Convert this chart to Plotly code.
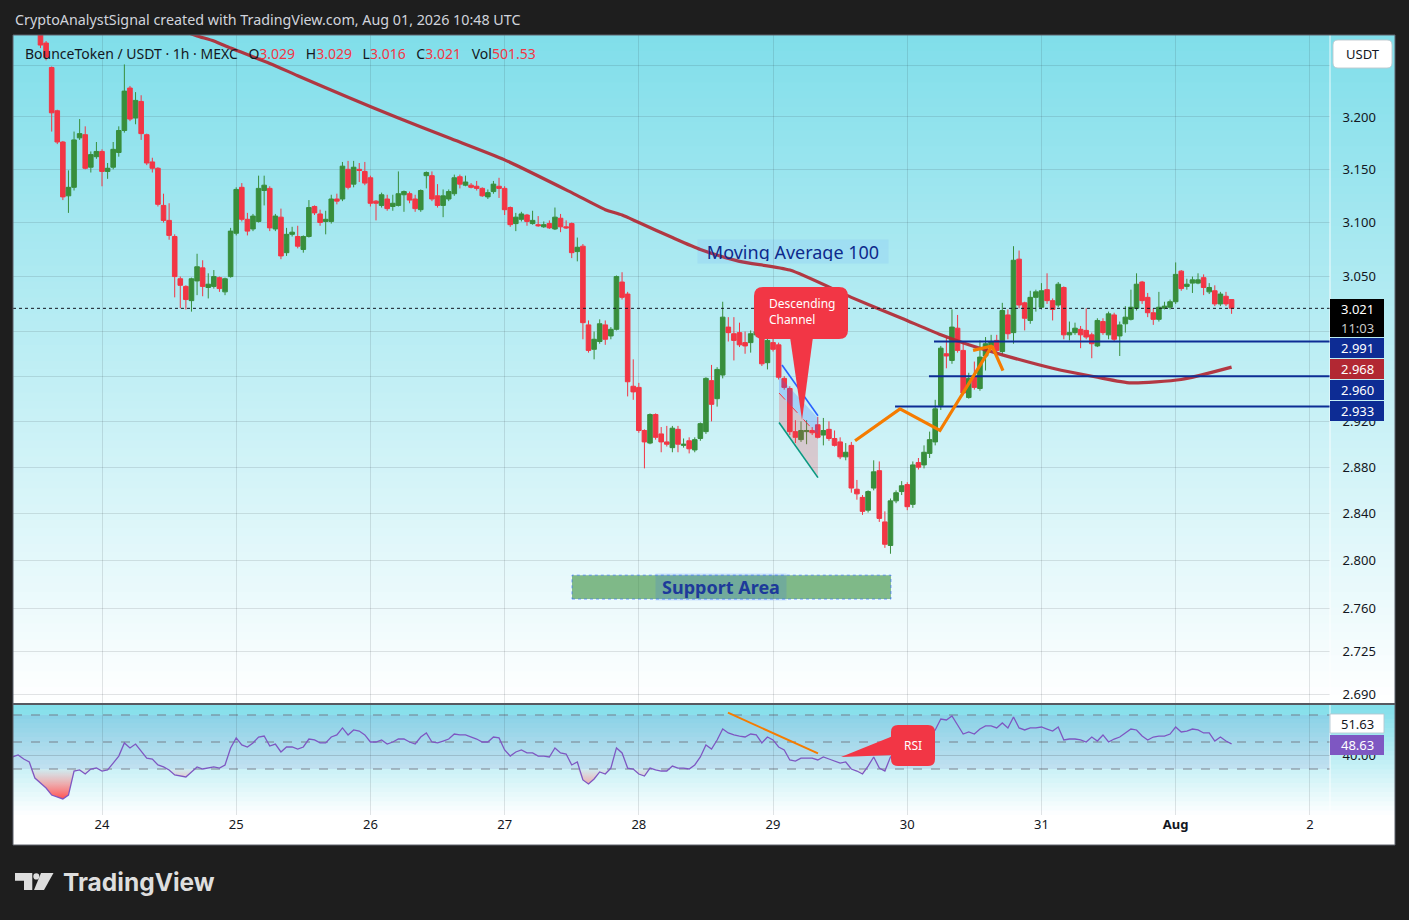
import math
import pandas as pd
import plotly.graph_objects as go

# ------------------------------------------------------------------ data
header_symbol = "BounceToken / USDT · 1h · MEXC"
last_volume = "501.53"
candle_start = "2026-07-23 13:00"

opens = [
    3.285, 3.272, 3.248, 3.206, 3.176, 3.125, 3.133, 3.180, 3.183, 3.152,
    3.162, 3.167, 3.148, 3.152, 3.166, 3.187, 3.228, 3.199, 3.215, 3.183,
    3.157, 3.151, 3.116, 3.102, 3.087, 3.048, 3.041, 3.028, 3.046, 3.058,
    3.040, 3.041, 3.049, 3.036, 3.050, 3.090, 3.133, 3.103, 3.094, 3.101,
    3.130, 3.132, 3.094, 3.105, 3.072, 3.089, 3.087, 3.075, 3.087, 3.115,
    3.108, 3.101, 3.101, 3.122, 3.122, 3.150, 3.136, 3.150, 3.148, 3.142,
    3.120, 3.116, 3.122, 3.115, 3.116, 3.126, 3.127, 3.122, 3.112, 3.144,
    3.144, 3.125, 3.116, 3.122, 3.127, 3.143, 3.135, 3.135, 3.134, 3.132,
    3.124, 3.129, 3.134, 3.132, 3.114, 3.099, 3.103, 3.107, 3.099, 3.098,
    3.096, 3.099, 3.094, 3.104, 3.096, 3.099, 3.073, 3.078, 3.006, 2.984,
    2.991, 3.006, 2.996, 3.002, 3.045, 3.034, 2.951, 2.950, 2.912, 2.901,
    2.926, 2.909, 2.902, 2.897, 2.913, 2.899, 2.903, 2.895, 2.905, 2.911,
    2.956, 2.940, 2.961, 3.004, 2.998, 2.999, 2.990, 2.990, 2.997, 2.996,
    2.972, 2.990, 2.988, 2.958, 2.949, 2.911, 2.904, 2.911, 2.912, 2.917,
    2.908, 2.913, 2.905, 2.902, 2.889, 2.899, 2.861, 2.854, 2.843, 2.862,
    2.877, 2.833, 2.813, 2.851, 2.859, 2.865, 2.848, 2.884, 2.882, 2.892,
    2.902, 2.934, 2.980, 2.974, 3.003, 2.983, 2.941, 2.959, 2.949, 2.978,
    2.987, 2.992, 2.982, 3.015, 2.999, 3.066, 3.026, 3.010, 3.031, 3.022,
    3.038, 3.028, 3.024, 3.040, 2.997, 2.999, 3.002, 3.001, 2.997, 2.987,
    3.009, 2.997, 3.015, 2.996, 3.007, 3.011, 3.021, 3.045, 3.031, 3.017,
    3.011, 3.021, 3.022, 3.027, 3.055, 3.041, 3.044, 3.044, 3.049, 3.036,
    3.037, 3.025, 3.032, 3.029,
]
highs = [
    3.290, 3.274, 3.249, 3.207, 3.177, 3.149, 3.186, 3.198, 3.191, 3.167,
    3.176, 3.169, 3.156, 3.176, 3.191, 3.251, 3.230, 3.224, 3.221, 3.184,
    3.161, 3.152, 3.127, 3.118, 3.089, 3.050, 3.042, 3.049, 3.071, 3.065,
    3.053, 3.056, 3.050, 3.049, 3.095, 3.133, 3.137, 3.109, 3.108, 3.144,
    3.144, 3.134, 3.108, 3.113, 3.095, 3.096, 3.097, 3.088, 3.121, 3.116,
    3.112, 3.111, 3.126, 3.127, 3.157, 3.158, 3.158, 3.156, 3.157, 3.144,
    3.121, 3.128, 3.126, 3.126, 3.148, 3.130, 3.129, 3.126, 3.131, 3.148,
    3.148, 3.136, 3.131, 3.131, 3.145, 3.145, 3.144, 3.137, 3.139, 3.133,
    3.131, 3.139, 3.142, 3.134, 3.115, 3.109, 3.110, 3.108, 3.111, 3.106,
    3.101, 3.102, 3.114, 3.108, 3.102, 3.100, 3.086, 3.080, 3.010, 3.000,
    3.011, 3.010, 3.004, 3.051, 3.054, 3.036, 2.975, 2.954, 2.913, 2.927,
    2.927, 2.915, 2.916, 2.916, 2.916, 2.905, 2.906, 2.906, 2.919, 2.959,
    2.970, 2.968, 3.027, 3.013, 3.013, 3.008, 3.000, 3.001, 3.004, 2.999,
    2.994, 2.994, 2.990, 2.960, 2.951, 2.921, 2.920, 2.921, 2.915, 2.924,
    2.923, 2.920, 2.912, 2.906, 2.901, 2.902, 2.869, 2.856, 2.860, 2.886,
    2.885, 2.842, 2.853, 2.860, 2.868, 2.867, 2.885, 2.888, 2.899, 2.911,
    2.939, 2.987, 2.995, 3.020, 3.015, 2.991, 2.963, 2.973, 2.992, 2.995,
    2.997, 2.997, 3.026, 3.020, 3.078, 3.074, 3.027, 3.037, 3.038, 3.044,
    3.053, 3.030, 3.045, 3.041, 3.009, 3.008, 3.005, 3.021, 2.999, 3.012,
    3.012, 3.018, 3.017, 3.009, 3.023, 3.038, 3.053, 3.046, 3.035, 3.021,
    3.036, 3.027, 3.029, 3.063, 3.056, 3.048, 3.050, 3.053, 3.052, 3.044,
    3.042, 3.036, 3.036, 3.029,
]
lows = [
    3.267, 3.255, 3.186, 3.174, 3.121, 3.109, 3.130, 3.178, 3.150, 3.147,
    3.160, 3.134, 3.141, 3.150, 3.162, 3.185, 3.196, 3.193, 3.178, 3.154,
    3.147, 3.115, 3.100, 3.084, 3.031, 3.021, 3.020, 3.018, 3.033, 3.032,
    3.030, 3.039, 3.036, 3.033, 3.049, 3.088, 3.101, 3.088, 3.092, 3.100,
    3.116, 3.092, 3.092, 3.066, 3.069, 3.087, 3.076, 3.072, 3.086, 3.107,
    3.097, 3.089, 3.099, 3.117, 3.120, 3.131, 3.133, 3.138, 3.135, 3.115,
    3.102, 3.114, 3.111, 3.111, 3.115, 3.110, 3.118, 3.110, 3.110, 3.132,
    3.120, 3.114, 3.105, 3.120, 3.125, 3.132, 3.134, 3.132, 3.130, 3.124,
    3.122, 3.127, 3.123, 3.107, 3.096, 3.092, 3.101, 3.097, 3.098, 3.096,
    3.095, 3.094, 3.093, 3.091, 3.094, 3.067, 3.064, 2.993, 2.981, 2.975,
    2.989, 2.988, 2.993, 3.001, 3.029, 2.942, 2.939, 2.910, 2.879, 2.900,
    2.904, 2.893, 2.898, 2.893, 2.893, 2.897, 2.892, 2.893, 2.903, 2.909,
    2.920, 2.933, 2.958, 2.991, 2.974, 2.986, 2.980, 2.981, 2.995, 2.969,
    2.966, 2.982, 2.957, 2.948, 2.908, 2.901, 2.902, 2.900, 2.908, 2.905,
    2.899, 2.903, 2.898, 2.887, 2.886, 2.858, 2.852, 2.839, 2.841, 2.860,
    2.833, 2.811, 2.806, 2.849, 2.856, 2.843, 2.845, 2.878, 2.879, 2.888,
    2.899, 2.930, 2.967, 2.971, 2.981, 2.943, 2.940, 2.948, 2.947, 2.965,
    2.985, 2.981, 2.979, 2.993, 2.989, 3.021, 3.001, 3.007, 3.018, 3.020,
    3.025, 3.010, 3.022, 2.993, 2.992, 2.997, 2.985, 2.993, 2.976, 2.986,
    2.997, 2.993, 2.991, 2.978, 2.999, 3.010, 3.019, 3.025, 3.013, 3.006,
    3.009, 3.020, 3.020, 3.025, 3.037, 3.038, 3.035, 3.043, 3.033, 3.034,
    3.023, 3.023, 3.023, 3.016,
]
closes = [
    3.270, 3.258, 3.204, 3.176, 3.124, 3.133, 3.178, 3.184, 3.151, 3.164,
    3.167, 3.148, 3.151, 3.169, 3.187, 3.225, 3.198, 3.216, 3.184, 3.156,
    3.151, 3.117, 3.102, 3.088, 3.050, 3.042, 3.029, 3.048, 3.059, 3.041,
    3.043, 3.050, 3.039, 3.048, 3.092, 3.131, 3.103, 3.092, 3.106, 3.132,
    3.135, 3.095, 3.106, 3.069, 3.089, 3.091, 3.078, 3.087, 3.114, 3.109,
    3.100, 3.103, 3.122, 3.120, 3.153, 3.133, 3.152, 3.149, 3.137, 3.118,
    3.118, 3.126, 3.113, 3.118, 3.127, 3.129, 3.121, 3.113, 3.130, 3.147,
    3.122, 3.116, 3.125, 3.129, 3.142, 3.136, 3.138, 3.133, 3.132, 3.125,
    3.128, 3.136, 3.132, 3.112, 3.098, 3.105, 3.108, 3.101, 3.102, 3.097,
    3.098, 3.095, 3.105, 3.096, 3.095, 3.072, 3.077, 3.008, 2.983, 2.993,
    3.007, 2.993, 3.002, 3.050, 3.031, 2.955, 2.946, 2.912, 2.902, 2.926,
    2.906, 2.902, 2.900, 2.914, 2.900, 2.900, 2.896, 2.904, 2.918, 2.958,
    2.935, 2.966, 3.013, 2.999, 2.992, 2.988, 2.987, 2.998, 3.000, 2.971,
    2.992, 2.984, 2.959, 2.950, 2.911, 2.906, 2.912, 2.912, 2.910, 2.906,
    2.912, 2.905, 2.899, 2.889, 2.893, 2.862, 2.857, 2.842, 2.859, 2.876,
    2.836, 2.814, 2.851, 2.858, 2.864, 2.846, 2.882, 2.880, 2.893, 2.904,
    2.931, 2.985, 2.978, 3.004, 2.983, 2.945, 2.958, 2.950, 2.977, 2.989,
    2.991, 2.983, 3.019, 2.998, 3.065, 3.024, 3.012, 3.031, 3.036, 3.037,
    3.028, 3.020, 3.043, 2.997, 2.999, 3.003, 2.997, 2.995, 2.989, 3.010,
    2.999, 3.016, 2.993, 3.006, 3.013, 3.022, 3.043, 3.028, 3.017, 3.011,
    3.022, 3.023, 3.027, 3.052, 3.039, 3.043, 3.047, 3.047, 3.040, 3.040,
    3.025, 3.034, 3.025, 3.021,
]

# Moving Average 100
ma_times = ["2026-07-24 14:00", "2026-07-24 17:00", "2026-07-24 20:00", "2026-07-24 23:00",
            "2026-07-25 06:00", "2026-07-25 11:00", "2026-07-25 20:00", "2026-07-26 05:00",
            "2026-07-26 14:00", "2026-07-27 00:00", "2026-07-27 12:00", "2026-07-27 18:00",
            "2026-07-27 21:00", "2026-07-28 00:00", "2026-07-28 06:00", "2026-07-28 11:00",
            "2026-07-28 18:00", "2026-07-29 03:00", "2026-07-29 14:00", "2026-07-29 23:00",
            "2026-07-30 06:00", "2026-07-30 11:00", "2026-07-30 17:00", "2026-07-31 02:00",
            "2026-07-31 10:00", "2026-07-31 16:00", "2026-08-01 01:00", "2026-08-01 10:00"]
ma_values = [3.285, 3.279, 3.274, 3.267, 3.252, 3.240, 3.219, 3.199,
             3.180, 3.159, 3.128, 3.112, 3.107, 3.100, 3.086, 3.075,
             3.064, 3.056, 3.031, 3.012, 2.997, 2.988, 2.979, 2.967,
             2.959, 2.954, 2.957, 2.968]

# RSI (hourly)
rsi_start = "2026-07-23 08:00"
rsi_values = [
    38.9, 40.4, 37.4, 35.2, 23.3, 19.6, 15.9, 10.7, 9.3, 7.8,
    10.7, 28.5, 29.3, 26.3, 30.0, 30.7, 28.5, 29.3, 34.4, 39.6,
    49.3, 45.6, 48.5, 43.3, 38.1, 37.4, 33.0, 31.5, 29.3, 25.6,
    24.8, 24.1, 27.8, 31.5, 30.0, 30.7, 31.5, 30.7, 33.0, 45.6,
    53.0, 47.8, 46.3, 49.3, 53.7, 54.4, 47.0, 48.5, 42.6, 46.3,
    46.3, 44.8, 46.3, 52.2, 51.5, 49.3, 49.3, 53.7, 55.2, 60.4,
    55.2, 58.9, 58.1, 55.2, 50.0, 50.0, 51.5, 48.5, 50.0, 52.2,
    52.2, 50.0, 48.5, 53.7, 56.7, 50.0, 49.3, 50.7, 52.2, 55.9,
    55.2, 55.2, 53.7, 52.2, 50.0, 50.0, 53.7, 53.0, 44.1, 39.6,
    42.6, 44.1, 41.9, 41.9, 39.6, 39.6, 38.9, 45.6, 41.9, 41.1,
    33.0, 35.2, 21.9, 18.9, 22.6, 27.8, 26.3, 30.7, 45.6, 41.9,
    30.7, 30.0, 26.3, 24.8, 30.7, 29.3, 28.5, 28.5, 32.2, 30.7,
    30.7, 30.0, 33.0, 38.9, 47.8, 44.8, 51.5, 59.6, 56.7, 55.2,
    54.4, 53.7, 55.9, 55.2, 49.3, 53.7, 51.5, 46.3, 44.1, 36.7,
    35.9, 38.1, 38.1, 38.1, 36.7, 38.9, 37.4, 35.9, 34.4, 35.2,
    30.0, 28.5, 26.3, 32.2, 38.9, 30.7, 28.5, 38.9, 40.4, 42.6,
    38.9, 47.8, 49.3, 51.5, 53.7, 58.9, 67.0, 66.3, 69.3, 62.6,
    55.9, 57.4, 55.9, 59.6, 61.9, 61.9, 60.4, 64.1, 60.4, 68.5,
    60.4, 58.9, 60.4, 60.4, 61.1, 59.6, 58.1, 61.1, 51.5, 52.2,
    52.2, 51.5, 50.0, 53.7, 50.7, 55.2, 50.0, 52.2, 53.7, 56.7,
    59.6, 58.9, 54.4, 51.5, 53.7, 54.4, 54.4, 55.9, 61.1, 57.4,
    58.1, 59.6, 58.9, 56.7, 56.7, 50.7, 53.7, 50.7, 48.63,
]
rsi_ma_last = 51.63
rsi_levels = [70, 50, 30]

price_ticks = [3.25, 3.2, 3.15, 3.1, 3.05, 3.0, 2.96, 2.92, 2.88, 2.84, 2.80, 2.76, 2.725, 2.69]
# labels of 3.250 / 3.000 / 2.960 sit under the USDT button and price boxes
hidden_price_labels = [3.25, 3.0, 2.96]
day_ticks = ["2026-07-24", "2026-07-25", "2026-07-26", "2026-07-27", "2026-07-28",
             "2026-07-29", "2026-07-30", "2026-07-31", "2026-08-01", "2026-08-02"]
day_labels = ["24", "25", "26", "27", "28", "29", "30", "31", "<b>Aug</b>", "2"]

key_levels = [2.991, 2.960, 2.933]
key_level_start = ["2026-07-30 04:47", "2026-07-30 03:53", "2026-07-29 21:49"]
ma_last = ma_values[-1]
countdown = "11:03"

# drawings (time, price)
zigzag_t = ["2026-07-29 14:40", "2026-07-29 22:42", "2026-07-30 05:51", "2026-07-30 15:09", "2026-07-30 17:07"]
zigzag_p = [2.903, 2.931, 2.912, 2.987, 2.965]
flag_t = ["2026-07-30 11:46", "2026-07-30 15:09"]
flag_p = [2.983, 2.987]
chan_t0, chan_t1, chan_tb = "2026-07-29 01:04", "2026-07-29 08:02", "2026-07-29 01:36"
chan_top = [2.970, 2.925]
chan_fill_top = [2.960, 2.923]
chan_mid = [2.945, 2.908]
chan_bot = [2.919, 2.871]
support_t = ["2026-07-27 12:03", "2026-07-29 21:05"]
support_p = [2.768, 2.788]
rsi_trend_t = ["2026-07-28 15:56", "2026-07-29 08:02"]
rsi_trend_v = [71.7, 41.6]

x_range = ["2026-07-23 08:05", "2026-08-02 03:36"]
y_range_price = [2.6828, 3.2799]
y_range_rsi = [-4.07, 77.4]

# ------------------------------------------------------------------ layout helpers
W, H = 1409, 920
ML, MR, MT, MB = 13, 79, 35, 105
PW, PH = W - ML - MR, H - MT - MB

def xp(v):
    return (v - ML) / PW

def yp(v):
    return (H - MB - v) / PH

GREEN = "#388e3c"
RED = "#f23645"
NAVY = "#0d2c94"
ORANGE = "#f57c00"
FONT = "Noto Sans, DejaVu Sans, sans-serif"
GRID = "rgba(42,46,57,0.13)"

candle_times = pd.date_range(candle_start, periods=len(opens), freq="h")
rsi_times = pd.date_range(rsi_start, periods=len(rsi_values), freq="h")

fig = go.Figure()

# channel fills (below candles)
fig.add_trace(go.Scatter(x=[chan_t0, chan_t1, chan_t1, chan_t0, chan_t0],
                         y=[chan_fill_top[0], chan_fill_top[1], chan_mid[1], chan_mid[0], chan_fill_top[0]],
                         fill="toself", fillcolor="rgba(41,98,255,0.22)", mode="lines",
                         line=dict(width=0), hoverinfo="skip", showlegend=False))
fig.add_trace(go.Scatter(x=[chan_t0, chan_t1, chan_t1, chan_t0, chan_t0],
                         y=[chan_mid[0], chan_mid[1], chan_bot[1], chan_bot[0], chan_mid[0]],
                         fill="toself", fillcolor="rgba(242,54,69,0.22)", mode="lines",
                         line=dict(width=0), hoverinfo="skip", showlegend=False))
# support area
fig.add_trace(go.Scatter(x=[support_t[0], support_t[1], support_t[1], support_t[0], support_t[0]],
                         y=[support_p[0], support_p[0], support_p[1], support_p[1], support_p[0]],
                         fill="toself", fillcolor="rgba(56,142,60,0.6)", mode="lines",
                         line=dict(width=1, color="rgba(41,98,255,0.6)", dash="dot"),
                         hoverinfo="skip", showlegend=False))

fig.add_trace(go.Candlestick(
    x=candle_times, open=opens, high=highs, low=lows, close=closes,
    increasing=dict(line=dict(color=GREEN, width=1), fillcolor=GREEN),
    decreasing=dict(line=dict(color=RED, width=1), fillcolor=RED),
    whiskerwidth=0, hoverinfo="skip", showlegend=False))

# MA 100
fig.add_trace(go.Scatter(x=ma_times, y=ma_values, mode="lines",
                         line=dict(color="rgba(178,40,51,0.92)", width=3.2, shape="spline", smoothing=0.6),
                         hoverinfo="skip", showlegend=False))
# channel lines
fig.add_trace(go.Scatter(x=[chan_tb, chan_t1], y=chan_top, mode="lines",
                         line=dict(color="#2962ff", width=1.6), hoverinfo="skip", showlegend=False))
fig.add_trace(go.Scatter(x=[chan_t0, chan_t1], y=chan_mid, mode="lines",
                         line=dict(color=RED, width=1, dash="dash"), hoverinfo="skip", showlegend=False))
fig.add_trace(go.Scatter(x=[chan_t0, chan_t1], y=chan_bot, mode="lines",
                         line=dict(color="#089981", width=1.6), hoverinfo="skip", showlegend=False))
# key levels
for lvl, t0 in zip(key_levels, key_level_start):
    fig.add_trace(go.Scatter(x=[t0, x_range[1]], y=[lvl, lvl], mode="lines",
                             line=dict(color=NAVY, width=2), hoverinfo="skip", showlegend=False))
# orange drawings
fig.add_trace(go.Scatter(x=zigzag_t, y=zigzag_p, mode="lines",
                         line=dict(color=ORANGE, width=3.2), hoverinfo="skip", showlegend=False))
fig.add_trace(go.Scatter(x=flag_t, y=flag_p, mode="lines",
                         line=dict(color=ORANGE, width=3.2), hoverinfo="skip", showlegend=False))
# last price dotted line
fig.add_trace(go.Scatter(x=x_range, y=[closes[-1], closes[-1]], mode="lines",
                         line=dict(color="#131722", width=1, dash="dot"), hoverinfo="skip", showlegend=False))

# RSI pane
fig.add_trace(go.Scatter(x=rsi_times, y=[30] * len(rsi_values), mode="lines", line=dict(width=0),
                         xaxis="x2", yaxis="y2", hoverinfo="skip", showlegend=False))
fig.add_trace(go.Scatter(x=rsi_times, y=[min(v, 30) for v in rsi_values], mode="lines", line=dict(width=0),
                         fill="tonexty",
                         fillgradient=dict(type="vertical",
                                           colorscale=[[0, "rgba(255,70,70,0.95)"], [1, "rgba(255,120,120,0.05)"]]),
                         xaxis="x2", yaxis="y2", hoverinfo="skip", showlegend=False))
fig.add_trace(go.Scatter(x=rsi_times, y=rsi_values, mode="lines", line=dict(color="#7e57c2", width=1.3),
                         xaxis="x2", yaxis="y2", hoverinfo="skip", showlegend=False))
fig.add_trace(go.Scatter(x=rsi_trend_t, y=rsi_trend_v, mode="lines", line=dict(color=ORANGE, width=2),
                         xaxis="x2", yaxis="y2", hoverinfo="skip", showlegend=False))

# ------------------------------------------------------------------ shapes
shapes = []
shapes.append(dict(type="rect", xref="paper", yref="paper", x0=xp(13), x1=xp(1395), y0=yp(845), y1=yp(35),
                   fillcolor="#ffffff", line=dict(width=0), layer="below"))

def stripes(top, bot, c0, c1, n):
    step = (bot - top) / n
    for i in range(n):
        t = (i + 0.5) / n
        col = tuple(round(c0[j] + (c1[j] - c0[j]) * t) for j in range(3))
        y0 = top + i * step
        y1 = min(bot, y0 + step + 0.8)
        shapes.append(dict(type="rect", xref="paper", yref="paper", x0=xp(13), x1=xp(1395),
                           y0=yp(y1), y1=yp(y0), fillcolor="rgb(%d,%d,%d)" % col,
                           line=dict(width=0), layer="below"))

stripes(35, 703, (128, 222, 234), (255, 255, 255), 84)
stripes(705, 815, (128, 222, 234), (255, 255, 255), 24)

shapes.append(dict(type="rect", xref="paper", yref="y2", x0=0, x1=1, y0=30, y1=70,
                   fillcolor="rgba(126,87,194,0.11)", line=dict(width=0), layer="below"))
for lv in rsi_levels:
    shapes.append(dict(type="line", xref="paper", yref="y2", x0=0, x1=1, y0=lv, y1=lv,
                       line=dict(color="rgba(110,113,124,0.85)", width=1, dash="dash"), layer="below"))

# separators / frame
shapes.append(dict(type="line", xref="paper", yref="paper", x0=xp(1330), x1=xp(1330), y0=yp(845), y1=yp(35),
                   line=dict(color="rgba(255,255,255,0.85)", width=1), layer="above"))
shapes.append(dict(type="line", xref="paper", yref="paper", x0=xp(13), x1=xp(1395), y0=yp(704), y1=yp(704),
                   line=dict(color="#1e222d", width=1.5), layer="above"))
shapes.append(dict(type="rect", xref="paper", yref="paper", x0=xp(13), x1=xp(1395), y0=yp(845), y1=yp(35),
                   line=dict(color="#5d606b", width=1), fillcolor="rgba(0,0,0,0)", layer="above"))


def rounded(x0, y0, x1, y1, r):
    p = lambda a, b: "%.5f,%.5f" % (xp(a), yp(b))
    return ("M" + p(x0 + r, y0) + " L" + p(x1 - r, y0) + " Q" + p(x1, y0) + " " + p(x1, y0 + r) +
            " L" + p(x1, y1 - r) + " Q" + p(x1, y1) + " " + p(x1 - r, y1) +
            " L" + p(x0 + r, y1) + " Q" + p(x0, y1) + " " + p(x0, y1 - r) +
            " L" + p(x0, y0 + r) + " Q" + p(x0, y0) + " " + p(x0 + r, y0) + " Z")


def poly(points):
    return "M" + " L".join("%.5f,%.5f" % (xp(a), yp(b)) for a, b in points) + " Z"


# callouts
shapes.append(dict(type="path", xref="paper", yref="paper", path=rounded(754, 287, 848, 339, 9),
                   fillcolor=RED, line=dict(width=0), layer="above"))
shapes.append(dict(type="path", xref="paper", yref="paper", path=poly([(790, 337), (813, 337), (802, 420)]),
                   fillcolor=RED, line=dict(width=0), layer="above"))
shapes.append(dict(type="path", xref="paper", yref="paper", path=rounded(891, 725, 935, 766, 7),
                   fillcolor=RED, line=dict(width=0), layer="above"))
shapes.append(dict(type="path", xref="paper", yref="paper", path=poly([(893, 736), (893, 755), (841, 757)]),
                   fillcolor=RED, line=dict(width=0), layer="above"))

# price axis boxes
annotations = []

def axis_box(top, bot, bg, lines, colors, border=None):
    shapes.append(dict(type="rect", xref="paper", yref="paper", x0=xp(1330), x1=xp(1384),
                       y0=yp(bot), y1=yp(top), fillcolor=bg,
                       line=dict(width=1 if border else 0, color=border or bg), layer="above"))
    n = len(lines)
    h = (bot - top) / n
    for i, (txt, col) in enumerate(zip(lines, colors)):
        annotations.append(dict(xref="paper", yref="paper", x=xp(1357), y=yp(top + h * (i + 0.5)),
                                text=txt, showarrow=False, xanchor="center", yanchor="middle",
                                font=dict(size=13, color=col, family=FONT)))

axis_box(299, 337, "#000000", ["%.3f" % closes[-1], countdown], ["#ffffff", "#c9c9c9"])
axis_box(338, 358, NAVY, ["%.3f" % key_levels[0]], ["#ffffff"])
axis_box(359, 379, "#b22833", ["%.3f" % ma_last], ["#ffffff"])
axis_box(380, 400, NAVY, ["%.3f" % key_levels[1]], ["#ffffff"])
axis_box(401, 421, NAVY, ["%.3f" % key_levels[2]], ["#ffffff"])
axis_box(714, 733, "#ffffff", ["%.2f" % rsi_ma_last], ["#131722"], border="rgba(180,200,210,0.9)")
axis_box(735, 755, "#7e57c2", ["%.2f" % rsi_values[-1]], ["#ffffff"])

# USDT button
shapes.append(dict(type="path", xref="paper", yref="paper", path=rounded(1333, 40, 1392, 68, 5),
                   fillcolor="#ffffff", line=dict(color="rgba(190,200,205,0.9)", width=1), layer="above"))
annotations.append(dict(xref="paper", yref="paper", x=xp(1362.5), y=yp(54), text="USDT", showarrow=False,
                        xanchor="center", yanchor="middle",
                        font=dict(size=13, color="#131722", family=FONT)))

# TradingView logo
shapes.append(dict(type="path", xref="paper", yref="paper",
                   path=poly([(15, 873), (32.3, 873), (32.3, 890), (24, 890), (24, 880.7), (15, 880.7)]),
                   fillcolor="#dedede", line=dict(width=0), layer="above"))
shapes.append(dict(type="circle", xref="paper", yref="paper", x0=xp(33.3), x1=xp(39.3), y0=yp(879.5), y1=yp(873.3),
                   fillcolor="#dedede", line=dict(width=0), layer="above"))
shapes.append(dict(type="path", xref="paper", yref="paper",
                   path=poly([(41, 873), (53.5, 873), (44, 890), (34, 890)]),
                   fillcolor="#dedede", line=dict(width=0), layer="above"))
annotations.append(dict(xref="paper", yref="paper", x=xp(61), y=yp(882), xanchor="left", yanchor="middle",
                        text="<b>TradingView</b>", showarrow=False,
                        font=dict(size=24.5, color="#dedede", family="Inter, Noto Sans, sans-serif")))

# text annotations
annotations.append(dict(xref="paper", yref="paper", x=xp(13), y=yp(19), xanchor="left", yanchor="middle",
                        text="CryptoAnalystSignal created with TradingView.com, Aug 01, 2026 10:48 UTC",
                        showarrow=False, font=dict(size=14.3, color="#d1d4dc", family=FONT)))
red_span = lambda v: "<span style='color:%s'>%s</span>" % (RED, v)
header = (header_symbol + "\u2002\u00a0O" + red_span("%.3f" % opens[-1]) + "\u2002\u00a0H" +
          red_span("%.3f" % highs[-1]) + "\u2002\u00a0L" + red_span("%.3f" % lows[-1]) +
          "\u2002\u00a0C" + red_span("%.3f" % closes[-1]) + "\u2002\u00a0Vol" + red_span(last_volume))
annotations.append(dict(xref="paper", yref="paper", x=xp(23), y=yp(53), xanchor="left", yanchor="middle",
                        text=header, showarrow=False, font=dict(size=14, color="#131722", family=FONT)))
annotations.append(dict(xref="paper", yref="paper", x=xp(793), y=yp(251.5), xanchor="center", yanchor="middle",
                        text="Moving Average 100", showarrow=False, width=186, height=19, borderpad=2,
                        bgcolor="rgba(41,98,255,0.07)",
                        font=dict(size=18, color="#0e2a8c", family=FONT)))
annotations.append(dict(xref="paper", yref="paper", x=xp(721), y=yp(587), xanchor="center", yanchor="middle",
                        text="<b>Support Area</b>", showarrow=False, width=126, height=22, borderpad=2,
                        bgcolor="rgba(41,98,255,0.16)",
                        font=dict(size=18, color="#1d3a9a", family=FONT)))
annotations.append(dict(xref="paper", yref="paper", x=xp(767), y=yp(311.5), xanchor="left", yanchor="middle",
                        text="Descending<br>Channel", align="left", showarrow=False,
                        font=dict(size=12, color="#ffffff", family=FONT)))
annotations.append(dict(xref="paper", yref="paper", x=xp(913), y=yp(745), xanchor="center", yanchor="middle",
                        text="RSI", showarrow=False, font=dict(size=12, color="#ffffff", family=FONT)))

# ------------------------------------------------------------------ layout
axis_font = dict(size=13, color="#131722", family=FONT)
fig.update_layout(
    width=W, height=H,
    margin=dict(l=ML, r=MR, t=MT, b=MB, pad=0),
    paper_bgcolor="#1e1e1e", plot_bgcolor="rgba(0,0,0,0)",
    showlegend=False, hovermode=False, dragmode=False,
    boxgap=0.18, boxgroupgap=0.0,
    font=dict(family=FONT),
    xaxis=dict(type="date", range=x_range, domain=[0, 1], anchor="y",
               showticklabels=False, tickvals=day_ticks, showgrid=True, gridcolor=GRID,
               zeroline=False, showline=False, rangeslider=dict(visible=False), fixedrange=True),
    yaxis=dict(type="log", range=[math.log10(y_range_price[0]), math.log10(y_range_price[1])],
               domain=[yp(703), 1], side="right", anchor="x",
               tickvals=price_ticks,
               ticktext=["" if v in hidden_price_labels else "%.3f" % v for v in price_ticks],
               ticks="outside", ticklen=9, tickcolor="rgba(0,0,0,0)", tickfont=axis_font,
               showgrid=True, gridcolor=GRID, zeroline=False, showline=False, fixedrange=True),
    xaxis2=dict(type="date", range=x_range, domain=[0, 1], anchor="y2",
                tickvals=day_ticks, ticktext=day_labels, tickfont=axis_font, ticks="",
                showgrid=True, gridcolor=GRID, zeroline=False, showline=False, fixedrange=True),
    yaxis2=dict(range=y_range_rsi, domain=[0, yp(705)], side="right", anchor="x2",
                tickvals=[40], ticktext=["40.00"], ticks="outside", ticklen=9,
                tickcolor="rgba(0,0,0,0)", tickfont=axis_font,
                showgrid=True, gridcolor="rgba(42,46,57,0.18)", zeroline=False, showline=False,
                fixedrange=True),
    shapes=shapes,
    annotations=annotations,
)

fig.write_html("out.html", config={"displayModeBar": False},
               post_script="document.body.style.margin='0';document.body.style.background='#1e1e1e';")
